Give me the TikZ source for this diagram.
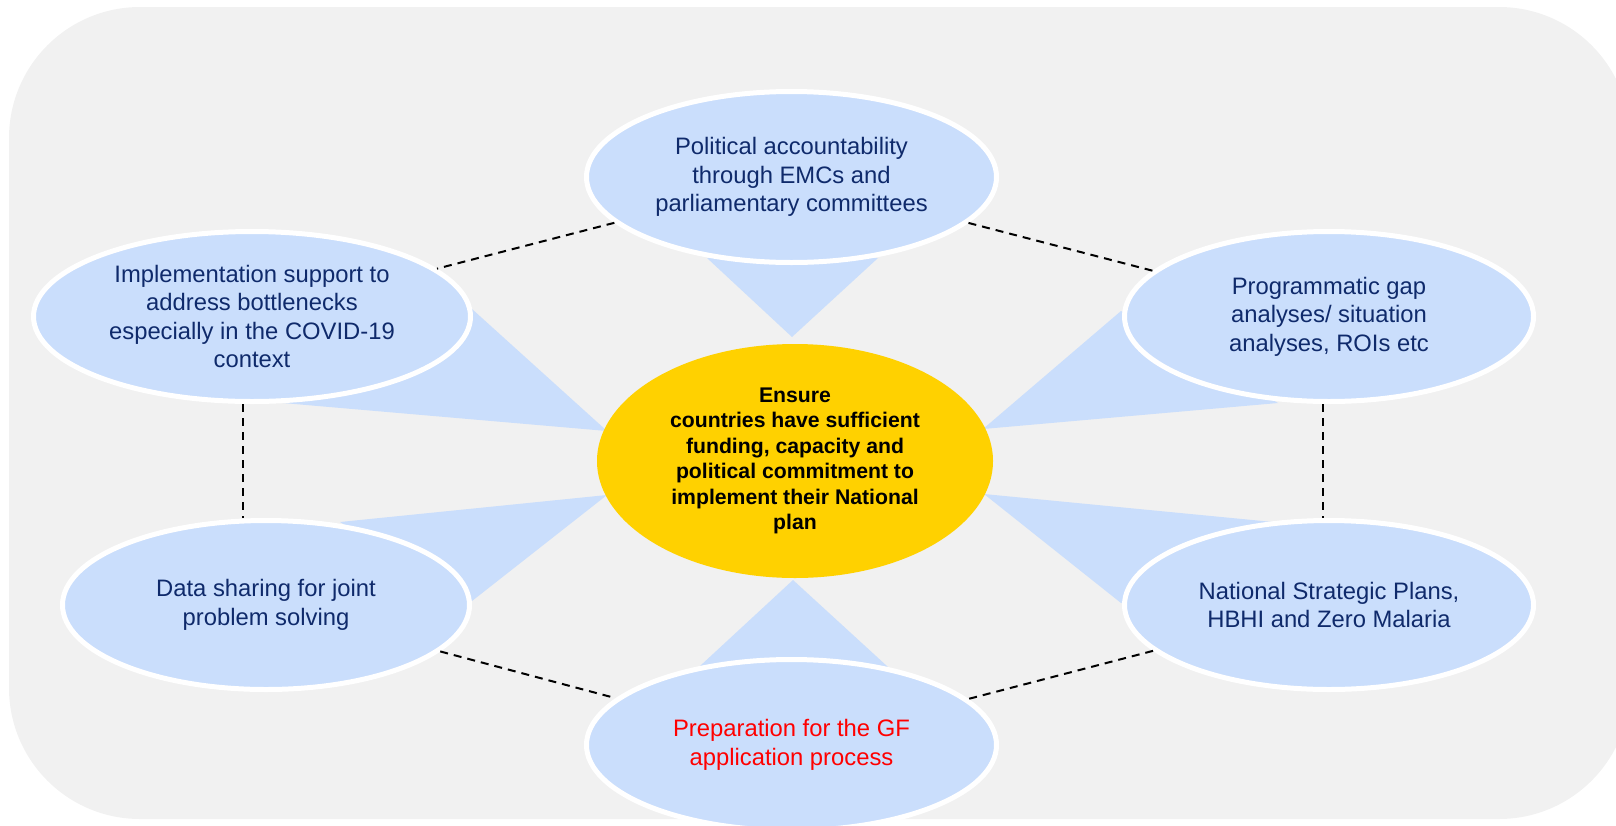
\documentclass[tikz,border=0pt]{standalone}
\usepackage{fontspec}
\setmainfont{Liberation Sans}
\usetikzlibrary{shapes.geometric}
\definecolor{bgc}{HTML}{F1F1F1}
\definecolor{bluef}{HTML}{CADEFC}
\definecolor{navy}{HTML}{0F2A6B}
\definecolor{gold}{HTML}{FFD100}
\definecolor{redt}{HTML}{FF0000}
\begin{document}
\begin{tikzpicture}[x=0.5pt,y=-0.5pt,
  outer/.style={ellipse, fill=bluef, draw=white, line width=2.5pt, inner sep=0pt, align=center, text=navy, font=\fontsize{11.9pt}{14.25pt}\selectfont},
  hub/.style={ellipse, fill=gold, inner sep=0pt, align=center, text=black, font=\bfseries\fontsize{10.6pt}{12.75pt}\selectfont},
  wedge/.style={fill=bluef},
  dline/.style={draw=black, line width=1pt, dash pattern=on 4pt off 3pt}]
\useasboundingbox (0,0) rectangle (1616,825);
\clip (0,0) rectangle (1616,825);
\fill[bgc, rounded corners=65.5pt] (9,7) rectangle (1630,819);

% callout pointers
\fill[wedge] (707,258) -- (878,258) -- (792,337) -- cycle;
\fill[wedge] (700,666) -- (888,667) -- (793,580) -- cycle;
\fill[wedge] (472,309) -- (283,403) -- (607,431) -- cycle;
\fill[wedge] (1121,311) -- (1278,403) -- (983,429) -- cycle;
\fill[wedge] (340,522) -- (472,601) -- (607,495) -- cycle;
\fill[wedge] (1273,522) -- (1121,603) -- (984,494) -- cycle;

% hub
\node[hub, minimum width=198pt, minimum height=117pt] (hub) at (795,461)
  {Ensure\\countries have sufficient\\funding, capacity and\\political commitment to\\implement their National\\plan};

% outer ellipses
\node[outer, minimum width=205pt, minimum height=85.5pt] (top) at (791.5,177)
  {Political accountability\\through EMCs and\\parliamentary committees};
\node[outer, minimum width=218.5pt, minimum height=85pt] (lt) at (252,316.5)
  {Implementation support to\\address bottlenecks\\especially in the COVID-19\\context};
\node[outer, minimum width=204.5pt, minimum height=85pt] (rt) at (1329,316.5)
  {Programmatic gap\\analyses/ situation\\analyses, ROIs etc};
\node[outer, minimum width=203.5pt, minimum height=84.5pt] (lb) at (266,605)
  {Data sharing for joint\\problem solving};
\node[outer, minimum width=204.5pt, minimum height=84.5pt] (rb) at (1329,605)
  {National Strategic Plans,\\HBHI and Zero Malaria};
\node[outer, text=redt, minimum width=205pt, minimum height=85.5pt] (bot) at (791.5,745)
  {Preparation for the GF\\application process};

% dashed links
\coordinate (vl) at (243,0);
\coordinate (vr) at (1323,0);
\draw[dline] (top) -- (lt);
\draw[dline] (top) -- (rt);
\draw[dline] (lb) -- (bot);
\draw[dline] (rb) -- (bot);
\draw[dline] (lt.south -| vl) -- (lb.north -| vl);
\draw[dline] (rt.south -| vr) -- (rb.north -| vr);
\end{tikzpicture}
\end{document}
